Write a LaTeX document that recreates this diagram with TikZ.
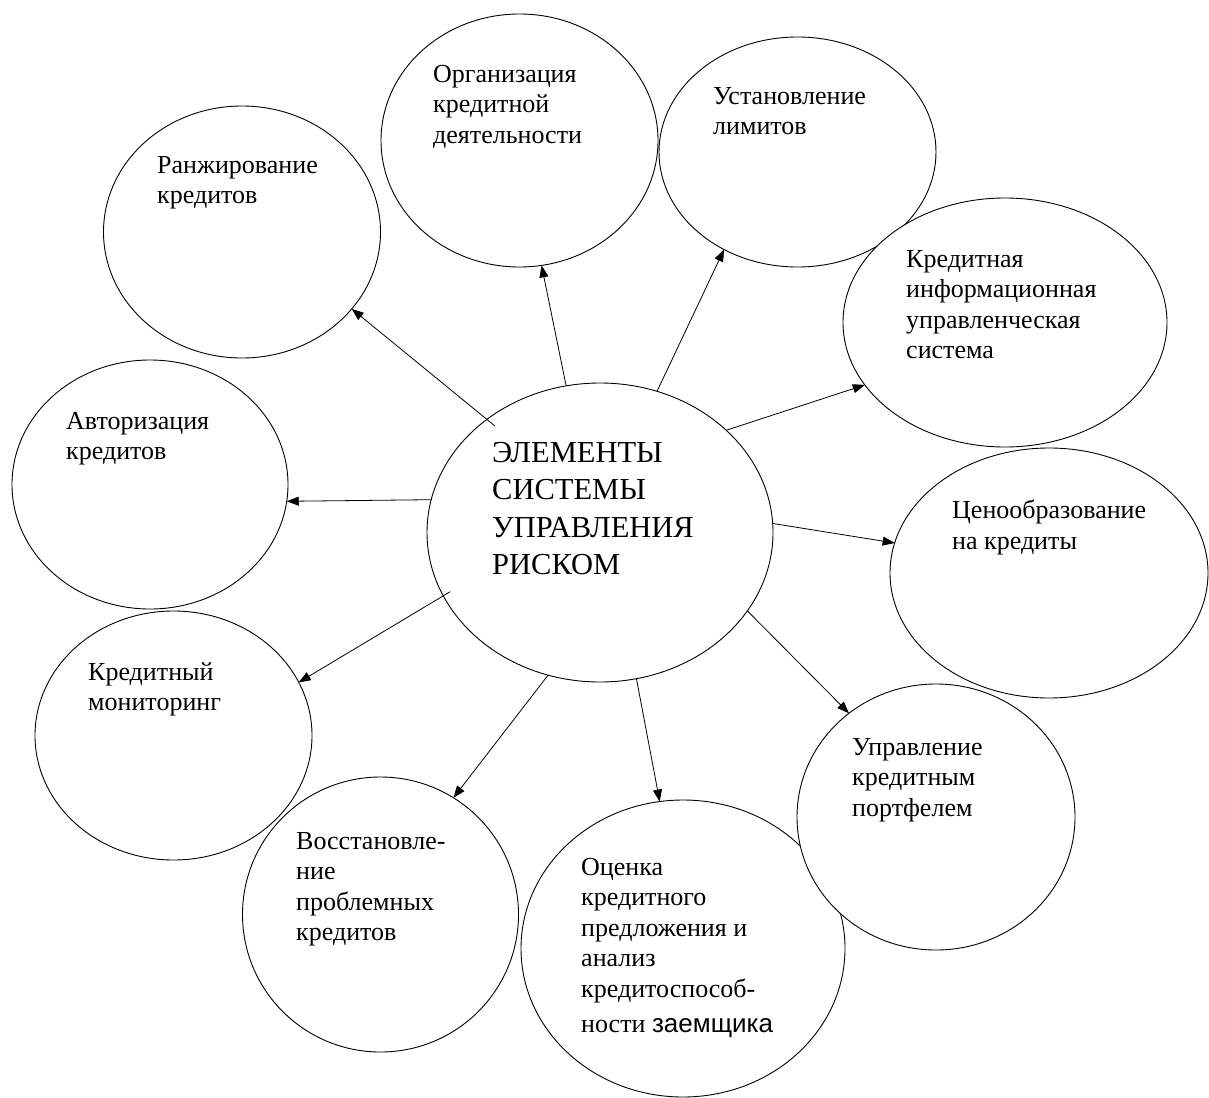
\documentclass[tikz,border=0pt]{standalone}
\usepackage{fontspec}
\setmainfont{Liberation Serif}
\newfontfamily\altsans{Liberation Sans}
\usetikzlibrary{shapes.geometric,arrows.meta}
\begin{document}
\begin{tikzpicture}[x=1pt,y=-1pt,
  bubble/.style={ellipse,draw=black,line width=0.9pt,fill=white,inner sep=0pt,outer sep=0pt},
  txt/.style={anchor=north west,inner sep=0pt,align=left,font=\fontsize{26}{30.5}\selectfont},
  bigtxt/.style={anchor=north west,inner sep=0pt,align=left,font=\fontsize{30.5}{37.5}\selectfont},
  arr/.style={-{Triangle[length=12pt,width=9pt]},line width=0.8pt}]
\useasboundingbox (0,0) rectangle (1209,1097);
\fill[white] (0,0) rectangle (1209,1097);
% ellipses
\node[bubble,minimum width=277pt,minimum height=252pt] (rank) at (242,232) {};
\node[bubble,minimum width=276pt,minimum height=249pt] (auth) at (150,484.5) {};
\node[bubble,minimum width=277pt,minimum height=249pt] (mon) at (173.5,735.5) {};
\node[bubble,minimum width=277pt,minimum height=253pt] (org) at (519.5,140.5) {};
\node[bubble,minimum width=277pt,minimum height=230pt] (lim) at (797.5,152) {};
\node[bubble,minimum width=324pt,minimum height=249pt] (info) at (1005,322.5) {};
\node[bubble,minimum width=318pt,minimum height=250pt] (price) at (1049,573) {};
\node[bubble,minimum width=276pt,minimum height=275pt] (rec) at (380.5,914.5) {};
\node[bubble,minimum width=324pt,minimum height=297pt] (eval) at (683,948.5) {};
\node[bubble,minimum width=278pt,minimum height=266pt] (port) at (936,817) {};
\node[bubble,minimum width=346pt,minimum height=299pt] (c) at (600,532.5) {};
% labels
\node[txt] (trank) at (157,156) {Ранжирование\\кредитов};
\node[txt] (torg) at (433,65) {Организация\\кредитной\\деятельности};
\node[txt] (tlim) at (713,87) {Установление\\лимитов};
\node[txt] (tinfo) at (906,250) {Кредитная\\информационная\\управленческая\\система};
\node[txt] (tauth) at (66,412) {Авторизация\\кредитов};
\node[txt] (tprice) at (952,500) {Ценообразование\\на кредиты};
\node[txt] (tmon) at (88,662) {Кредитный\\мониторинг};
\node[txt] (tport) at (852,738) {Управление\\кредитным\\портфелем};
\node[txt] (trec) at (296,832) {Восстановле-\\ние\\проблемных\\кредитов};
\node[txt] (teval) at (581,858) {Оценка\\кредитного\\предложения и\\анализ\\кредитоспособ-\\[5pt]ности {\altsans заемщика}};
\node[bigtxt] (tc) at (492,442) {ЭЛЕМЕНТЫ\\СИСТЕМЫ\\УПРАВЛЕНИЯ\\РИСКОМ};
% arrows
\draw[arr,shorten <=-10pt] (c.135) -- (rank.-35);
\draw[arr] (c.169) -- (auth.-7);
\draw[arr] (c.103.2) -- (org.-80);
\draw[arr] (c.68.6) -- (lim.-127);
\draw[arr] (c.39.2) -- (info.-156.6);
\draw[arr] (c.3.5) -- (price.169.4);
\draw[arr] (c.-28.2) -- (port.130);
\draw[arr] (c.-76.5) -- (eval.99.6);
\draw[arr] (c.-110.8) -- (rec.58.5);
\draw[arr,shorten <=-8pt] (c.-158.5) -- (mon.23.8);
\end{tikzpicture}
\end{document}
